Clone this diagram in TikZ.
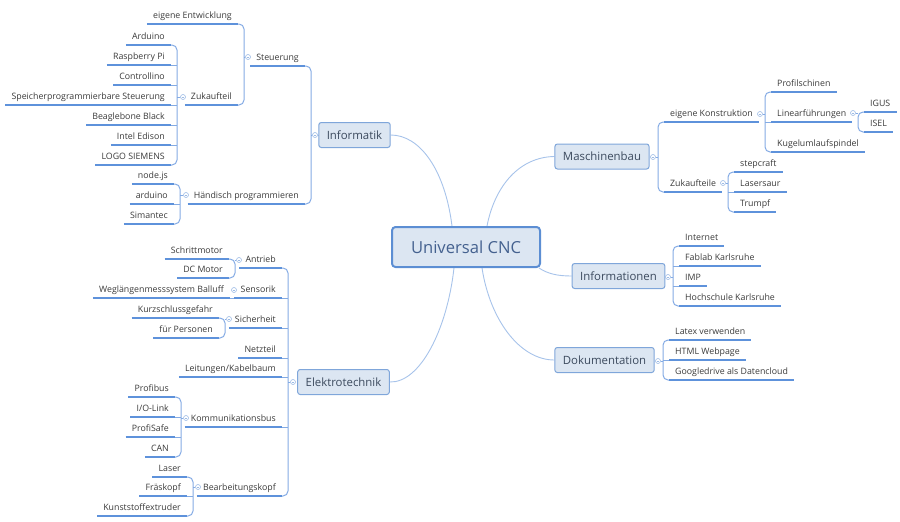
\documentclass[tikz,border=0pt]{standalone}
\usepackage{fontspec}
\setmainfont{Open Sans}
\usetikzlibrary{calc}
\definecolor{mainfill}{HTML}{DCE6F2}
\definecolor{mainborder}{HTML}{7FA6DA}
\definecolor{cborder}{HTML}{5C8ED3}
\definecolor{ulcol}{HTML}{5E92DB}
\definecolor{spcol}{HTML}{84ABE4}
\definecolor{curvecol}{HTML}{A7C3EA}
\definecolor{markcol}{HTML}{9DBBE6}
\definecolor{txt}{HTML}{3A3A3A}
\definecolor{toptxt}{HTML}{3C4A5E}
\definecolor{ctxt}{HTML}{44618F}
\pgfdeclarelayer{bg}
\pgfsetlayers{bg,main}
\begin{document}
\begin{tikzpicture}[x=1pt,y=-1pt,
  uline/.style={draw=ulcol,line width=1.4pt},
  sub/.style={font=\fontsize{8.8}{10}\selectfont, text=txt, inner xsep=6pt, inner ysep=3pt,
    text height=7pt, text depth=2.5pt,
    append after command={(\tikzlastnode.south west) edge[uline] (\tikzlastnode.south east)}},
  L/.style={sub,anchor=south east},
  R/.style={sub,anchor=south west},
  topic/.style={draw=mainborder, fill=mainfill, line width=1pt, rounded corners=2.5pt,
    font=\fontsize{11.4}{13}\selectfont, text=toptxt, inner xsep=8pt, minimum height=25pt},
  central/.style={draw=cborder, fill=mainfill, line width=2pt, rounded corners=3.5pt,
    font=\fontsize{16.6}{19}\selectfont, text=ctxt, minimum width=148pt, minimum height=40pt},
  spine/.style={draw=spcol, line width=1pt, rounded corners=5pt},
  curve/.style={draw=curvecol, line width=0.9pt},
  marker/.style={circle, draw=markcol, fill=white, inner sep=0pt, minimum size=5pt, line width=0.6pt,
    path picture={\draw[markcol,line width=0.5pt] ([xshift=-1.3pt]path picture bounding box.center) -- ([xshift=1.3pt]path picture bounding box.center);}}
]
\useasboundingbox (0,0) rectangle (900,522);

% central and main topics
\node[central] (cnc) at (466,247) {Universal CNC};
\node[topic] (inf) at (354.5,135) {Informatik};
\node[topic] (elt) at (343.5,382) {Elektrotechnik};
\node[topic] (msb) at (602,156.5) {Maschinenbau};
\node[topic] (ifo) at (618.5,276) {Informationen};
\node[topic] (dok) at (604.5,360) {Dokumentation};

% Informatik subtree
\node[L] (steu) at (305,66) {Steuerung};
\node[L] (hand) at (305,204) {Händisch programmieren};
\node[L] (eig) at (238,24) {eigene Entwicklung};
\node[L] (zuk) at (238,105) {Zukaufteil};
\node[L] (ard) at (171,45) {Arduino};
\node[L] (rasp) at (171,65) {Raspberry Pi};
\node[L] (ctrl) at (171,85) {Controllino};
\node[L] (sps) at (171,105) {Speicherprogrammierbare Steuerung};
\node[L] (bbb) at (171,125) {Beaglebone Black};
\node[L] (edi) at (171,145) {Intel Edison};
\node[L] (logo) at (171,165) {LOGO SIEMENS};
\node[L] (node) at (174,184) {node.js};
\node[L] (ardl) at (174,204) {arduino};
\node[L] (sim) at (174,224) {Simantec};

% Elektrotechnik subtree
\node[L] (antr) at (282,268) {Antrieb};
\node[L] (sens) at (282,298) {Sensorik};
\node[L] (sich) at (282,328) {Sicherheit};
\node[L] (netz) at (282,358) {Netzteil};
\node[L] (leit) at (282,377) {Leitungen/Kabelbaum};
\node[L] (komm) at (282,427) {Kommunikationsbus};
\node[L] (bear) at (282,496) {Bearbeitungskopf};
\node[L] (schr) at (229,259) {Schrittmotor};
\node[L] (dcm) at (229,278) {DC Motor};
\node[L] (weg) at (230,298) {Weglängenmesssystem Balluff};
\node[L] (kurz) at (219,318) {Kurzschlussgefahr};
\node[L] (pers) at (219,338) {für Personen};
\node[L] (prof) at (175,397) {Profibus};
\node[L] (iol) at (175,417) {I/O-Link};
\node[L] (psafe) at (175,437) {ProfiSafe};
\node[L] (can) at (175,457) {CAN};
\node[L] (las) at (187,477) {Laser};
\node[L] (fras) at (187,496) {Fräskopf};
\node[L] (kunst) at (187,516) {Kunststoffextruder};

% Maschinenbau subtree
\node[R] (eigk) at (664,122) {eigene Konstruktion};
\node[R] (zukt) at (664,192) {Zukaufteile};
\node[R] (prs) at (771,92) {Profilschinen};
\node[R] (lin) at (771,122) {Linearführungen};
\node[R] (kug) at (771,152) {Kugelumlaufspindel};
\node[R] (igus) at (864,112) {IGUS};
\node[R] (isel) at (864,132) {ISEL};
\node[R] (step) at (734,172) {stepcraft};
\node[R] (lsaur) at (734,192) {Lasersaur};
\node[R] (trum) at (734,212) {Trumpf};

% Informationen subtree
\node[R] (inet) at (679,246) {Internet};
\node[R] (fab) at (679,266) {Fablab Karlsruhe};
\node[R] (imp) at (679,286) {IMP};
\node[R] (hska) at (679,306) {Hochschule Karlsruhe};

% Dokumentation subtree
\node[R] (ltx) at (669,340) {Latex verwenden};
\node[R] (html) at (669,360) {HTML Webpage};
\node[R] (gdr) at (669,380) {Googledrive als Datencloud};

% markers
\node[marker] (minf) at (315,135) {};
\node[marker] (msteu) at (248,57) {};
\node[marker] (mzuk) at (183,97) {};
\node[marker] (mhand) at (186,195) {};
\node[marker] (melt) at (293,382) {};
\node[marker] (mantr) at (239,260) {};
\node[marker] (msens) at (234,290) {};
\node[marker] (msich) at (229,319) {};
\node[marker] (mkomm) at (186,418) {};
\node[marker] (mbear) at (198,487) {};
\node[marker] (mmsb) at (653,157) {};
\node[marker] (meigk) at (760,114) {};
\node[marker] (mlin) at (853,113) {};
\node[marker] (mzukt) at (723,183) {};
\node[marker] (mifo) at (668,277) {};
\node[marker] (mdok) at (658,361) {};

\begin{pgfonlayer}{bg}
% central curves
\draw[curve] ([xshift=-14pt]cnc.north) .. controls (445,170) and (420,135) .. (inf.east);
\draw[curve] ([xshift=-12pt]cnc.south) .. controls (447,330) and (420,383) .. (elt.east);
\draw[curve] ([xshift=21pt]cnc.north) .. controls (495,185) and (520,157) .. (msb.west);
\draw[curve] ([xshift=-2pt]cnc.south east) .. controls (548,274) and (558,276) .. (ifo.west);
\draw[curve] ([xshift=16pt]cnc.south) .. controls (490,320) and (520,360) .. (dok.west);

% Informatik
\draw[curve] (inf.west) -- (minf);
\draw[spine] (steu.south east) -- (311,66) -- (311,204) -- (hand.south east);
\draw[spine] (minf) -- (311,135);
\draw[spine] (eig.south east) -- (244,24) -- (244,105) -- (zuk.south east);
\draw[spine] (msteu) -- (244,57);
\draw[spine] (ard.south east) -- (177,45) -- (177,165) -- (logo.south east);
\draw[spine] (rasp.south east) -- (177,65);
\draw[spine] (ctrl.south east) -- (177,85);
\draw[spine] (sps.south east) -- (177,105);
\draw[spine] (bbb.south east) -- (177,125);
\draw[spine] (edi.south east) -- (177,145);
\draw[spine] (mzuk) -- (177,97);
\draw[spine] (node.south east) -- (180,184) -- (180,224) -- (sim.south east);
\draw[spine] (ardl.south east) -- (180,204);
\draw[spine] (mhand) -- (180,195);

% Elektrotechnik
\draw[spine] (antr.south east) -- (288,268) -- (288,496) -- (bear.south east);
\draw[spine] (sens.south east) -- (288,298);
\draw[spine] (sich.south east) -- (288,328);
\draw[spine] (netz.south east) -- (288,358);
\draw[spine] (leit.south east) -- (288,377);
\draw[spine] (komm.south east) -- (288,427);
\draw[spine] (melt) -- (288,382);
\draw[spine] (schr.south east) -- (235,259) -- (235,278) -- (dcm.south east);
\draw[spine] (mantr) -- (235,260);
\draw[spine] (weg.south east) -- (sens.south west);
\draw[spine] (kurz.south east) -- (225,318) -- (225,338) -- (pers.south east);
\draw[spine] (msich) -- (225,319);
\draw[spine] (prof.south east) -- (181,397) -- (181,457) -- (can.south east);
\draw[spine] (iol.south east) -- (181,417);
\draw[spine] (psafe.south east) -- (181,437);
\draw[spine] (mkomm) -- (181,418);
\draw[spine] (las.south east) -- (193,477) -- (193,516) -- (kunst.south east);
\draw[spine] (fras.south east) -- (193,496);
\draw[spine] (mbear) -- (193,487);

% Maschinenbau
\draw[spine] (eigk.south west) -- (658,122) -- (658,192) -- (zukt.south west);
\draw[spine] (mmsb) -- (658,157);
\draw[spine] (prs.south west) -- (765,92) -- (765,152) -- (kug.south west);
\draw[spine] (lin.south west) -- (765,122);
\draw[spine] (meigk) -- (765,114);
\draw[spine] (igus.south west) -- (858,112) -- (858,132) -- (isel.south west);
\draw[spine] (mlin) -- (858,113);
\draw[spine] (step.south west) -- (728,172) -- (728,212) -- (trum.south west);
\draw[spine] (lsaur.south west) -- (728,192);
\draw[spine] (mzukt) -- (728,183);

% Informationen
\draw[spine] (inet.south west) -- (673,246) -- (673,306) -- (hska.south west);
\draw[spine] (fab.south west) -- (673,266);
\draw[spine] (imp.south west) -- (673,286);
\draw[spine] (mifo) -- (673,277);

% Dokumentation
\draw[spine] (ltx.south west) -- (663,340) -- (663,380) -- (gdr.south west);
\draw[spine] (html.south west) -- (663,360);
\draw[spine] (mdok) -- (663,361);
\end{pgfonlayer}
\end{tikzpicture}
\end{document}
